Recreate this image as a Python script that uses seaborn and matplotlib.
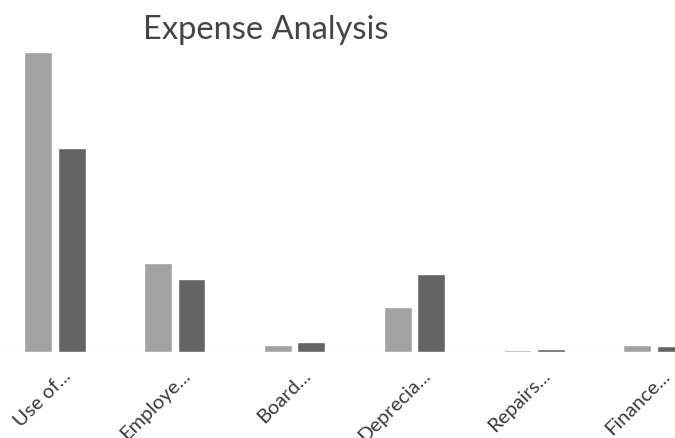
import matplotlib
matplotlib.use('Agg')
import matplotlib.pyplot as plt
import matplotlib.transforms as mtransforms
import seaborn as sns
import pandas as pd

categories = ["Use of...", "Employe...", "Board...", "Deprecia...", "Repairs...", "Finance..."]
series_names = ["Series 1", "Series 2"]
series1 = [300, 89, 7, 45, 2, 7]
series2 = [204, 73, 10, 78, 3, 6]
colors = ["#a2a2a2", "#646464"]

df = pd.DataFrame({
    "category": categories * 2,
    "series": [series_names[0]] * len(categories) + [series_names[1]] * len(categories),
    "value": series1 + series2,
})

sns.set_theme(style="white")
plt.rcParams['font.family'] = ['Lato', 'DejaVu Sans']

W, H = 675, 439
fig = plt.figure(figsize=(W / 100, H / 100), dpi=100)
ax = fig.add_axes([0, 1 - 353 / H, 1, 353 / H])

sns.barplot(data=df, x="category", y="value", hue="series", order=categories,
            palette=colors, width=0.56, gap=0.17, saturation=1, legend=False, ax=ax)

ax.set_xlim(-55 / 120, 5 + 21 / 120)
ax.set_ylim(0, 353)
ax.axhline(0, color="#eeeeee", lw=1, zorder=0)
for s in ax.spines.values():
    s.set_visible(False)
ax.set_xlabel("")
ax.set_ylabel("")
ax.set_yticks([])
ax.tick_params(axis="x", length=0, pad=0)
ax.set_xticks(range(len(categories)))
ax.set_xticklabels(categories, rotation=45, ha="right", va="center",
                   rotation_mode="anchor", fontsize=14.5, color="#3a3a3a")
offset = mtransforms.ScaledTranslation(0.13, -0.20, fig.dpi_scale_trans)
for lab in ax.get_xticklabels():
    lab.set_transform(lab.get_transform() + offset)

fig.text(266 / W, 1 - 30 / H, "Expense Analysis", ha="center", va="center",
         fontsize=23.5, color="#454545")

fig.savefig("out.png", dpi=100, facecolor="white")
